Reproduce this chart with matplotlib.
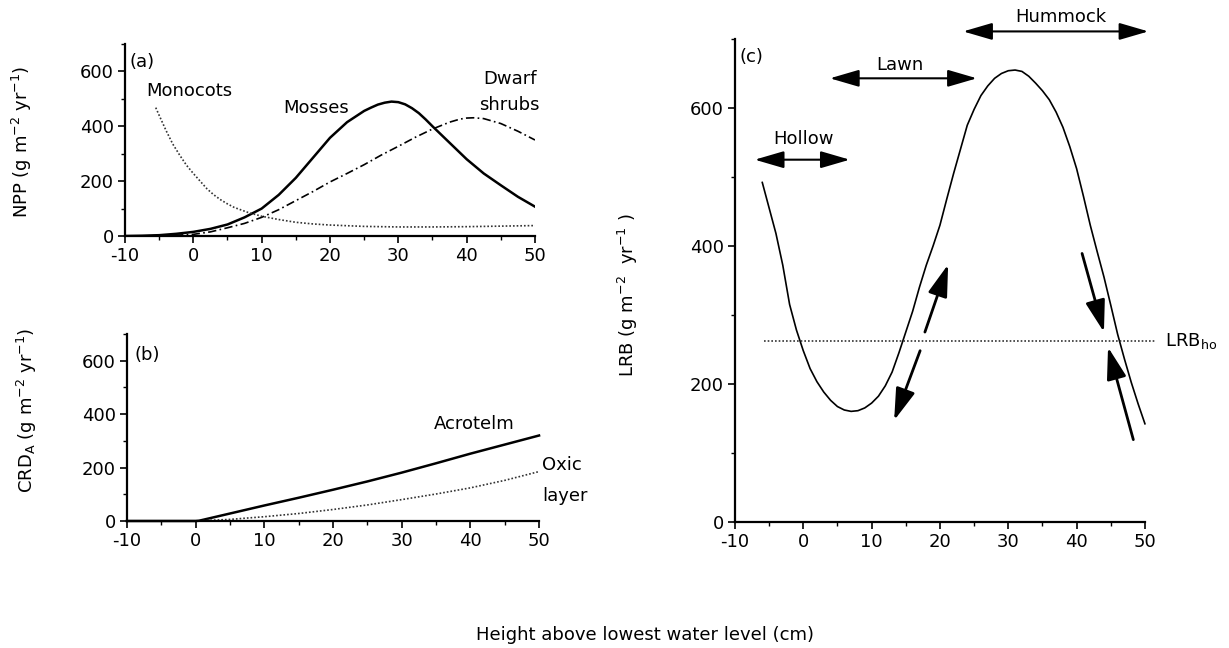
import matplotlib
matplotlib.use("Agg")
import matplotlib.pyplot as plt
from matplotlib.ticker import MultipleLocator

plt.rcParams['font.family'] = ['DejaVu Sans']
plt.rcParams['axes.unicode_minus'] = False
plt.rcParams['mathtext.default'] = 'regular'

# ---------------- data ----------------
# Panel (a): NPP
mosses_x = [-10, -7.5, -5, -2.5, 0, 2.5, 5, 7.5, 10, 12.5, 15, 17.5, 20, 22.5, 25,
            26, 27, 28, 29, 30, 31, 32, 33, 34, 35, 37.5, 40, 42.5, 45, 47.5, 50]
mosses_y = [0, 1, 3, 8, 15, 26, 42, 68, 100, 150, 212, 285, 358, 415, 456,
            468, 479, 486, 490, 488, 480, 466, 448, 425, 400, 340, 280, 228, 185, 143, 107]

dwarf_x = [-10, -5, -2.5, 0, 2.5, 5, 7.5, 10, 12.5, 15, 17.5, 20, 22.5, 25,
           27.5, 30, 32.5, 35, 37.5, 39, 40, 41, 42.5, 45, 47.5, 50]
dwarf_y = [0, 1, 3, 6, 15, 30, 46, 68, 96, 129, 162, 197, 228, 260,
           295, 327, 360, 390, 415, 426, 430, 431, 428, 410, 382, 350]

mono_x = [-5.5, -5, -4, -3, -2, -1, 0, 1, 2, 3, 4, 5, 6, 8, 10, 12.5, 15, 17.5,
          20, 25, 30, 35, 40, 45, 50]
mono_y = [468, 440, 385, 335, 295, 258, 228, 200, 172, 150, 132, 117, 104, 86, 72,
          60, 50, 44, 40, 35, 33, 33, 34, 36, 38]

# Panel (b): CRD_A
acro_x = [-10, 0, 0.5, 5, 10, 15, 20, 25, 30, 35, 40, 45, 50]
acro_y = [0, 0, 1, 28, 58, 87, 117, 148, 181, 216, 252, 286, 320]
oxic_x = [0, 5, 10, 15, 20, 25, 30, 35, 40, 45, 50]
oxic_y = [0, 6, 16, 28, 43, 60, 80, 101, 124, 152, 185]

# Panel (c): LRB
lrb_x = [-6, -5, -4, -3, -2, -1, 0, 1, 2, 3, 4, 5, 6, 7, 8, 9, 10, 11, 12, 13, 14,
         15, 16, 17, 18, 19, 20, 21, 22, 23, 24, 25, 26, 27, 28, 29, 30, 31, 32,
         33, 34, 35, 36, 37, 38, 39, 40, 41, 42, 43, 44, 45, 46, 47, 48, 49, 50]
lrb_y = [492, 455, 418, 372, 315, 278, 248, 222, 203, 188, 176, 167, 162, 160, 161,
         165, 172, 182, 197, 217, 245, 275, 305, 340, 372, 400, 430, 468, 505, 540,
         575, 598, 618, 632, 643, 650, 654, 655, 653, 646, 636, 625, 612, 594, 572,
         544, 512, 472, 430, 392, 355, 314, 272, 236, 202, 171, 142]
lrb_ho = 262
lrb_ho_x = [-5.7, 51.6]

zone_names = ["Hollow", "Lawn", "Hummock"]
zone_start = [-7.1, 3.9, 23.4]
zone_end = [6.8, 25.4, 50.5]
zone_arrow_y = [525, 643, 711]
zone_text_x = [0, 14.1, 37.7]
zone_text_y = [555, 662, 732]

# feedback arrows (tail x, tail y, head x, head y)
fb_arrows = [(17.8, 275, 21.2, 373),
             (17.1, 248, 13.3, 147),
             (40.8, 389, 44.0, 275),
             (48.3, 119, 44.6, 253)]

xticks = [-10, 0, 10, 20, 30, 40, 50]
yticks = [0, 200, 400, 600]

FS = 13

fig = plt.figure(figsize=(12.29, 6.48), dpi=100)
ax_a = fig.add_axes([0.1017, 0.6358, 0.3336, 0.2963])
ax_b = fig.add_axes([0.1033, 0.196, 0.3353, 0.2886])
ax_c = fig.add_axes([0.598, 0.1949, 0.3336, 0.7449])


def style(ax):
    for s in ['top', 'right']:
        ax.spines[s].set_visible(False)
    for s in ['left', 'bottom']:
        ax.spines[s].set_linewidth(1.6)
    ax.set_xlim(-10, 50)
    ax.set_ylim(0, 700)
    ax.set_xticks(xticks)
    ax.set_yticks(yticks)
    ax.xaxis.set_minor_locator(MultipleLocator(5))
    ax.yaxis.set_minor_locator(MultipleLocator(100))
    ax.tick_params(which='major', direction='out', length=5, width=1.2,
                   labelsize=FS, pad=3)
    ax.tick_params(which='minor', direction='out', length=3, width=1.0)


for ax in (ax_a, ax_b, ax_c):
    style(ax)

dot = (0, (1, 1.2))

# Panel (a)
ax_a.plot(mosses_x, mosses_y, color='black', lw=1.8)
ax_a.plot(dwarf_x, dwarf_y, color='black', lw=1.2, ls=(0, (5, 2, 1, 2)))
ax_a.plot(mono_x, mono_y, color='#333333', lw=1.2, ls=dot)
ax_a.text(-9.3, 634, "(a)", fontsize=FS, ha='left', va='center')
ax_a.text(-0.6, 530, "Monocots", fontsize=FS, ha='center', va='center')
ax_a.text(18, 466, "Mosses", fontsize=FS, ha='center', va='center')
ax_a.text(50.3, 573, "Dwarf", fontsize=FS, ha='right', va='center')
ax_a.text(50.6, 477, "shrubs", fontsize=FS, ha='right', va='center')
ax_a.set_ylabel("NPP (g m$^{-2}$ yr$^{-1}$)", fontsize=FS)
ax_a.yaxis.set_label_coords(-0.222, 0.49)

# Panel (b)
ax_b.plot(acro_x, acro_y, color='black', lw=1.8, clip_on=False)
ax_b.plot(oxic_x, oxic_y, color='#333333', lw=1.2, ls=dot, clip_on=False)
ax_b.text(-8.9, 622, "(b)", fontsize=FS, ha='left', va='center')
ax_b.text(40.5, 363, "Acrotelm", fontsize=FS, ha='center', va='center')
ax_b.text(50.4, 209, "Oxic", fontsize=FS, ha='left', va='center')
ax_b.text(50.4, 92, "layer", fontsize=FS, ha='left', va='center')
ax_b.set_ylabel("CRD$_A$ (g m$^{-2}$ yr$^{-1}$)", fontsize=FS)
ax_b.yaxis.set_label_coords(-0.214, 0.59)

# Panel (c)
ax_c.plot(lrb_x, lrb_y, color='black', lw=1.2, clip_on=False)
ax_c.plot(lrb_ho_x, [lrb_ho, lrb_ho], color='#333333', lw=1.2, ls=dot, clip_on=False)
ax_c.text(52.9, lrb_ho, "LRB$_{ho}$", fontsize=FS, ha='left', va='center')
ax_c.text(-9.4, 674, "(c)", fontsize=FS, ha='left', va='center')
for name, xs, xe, ya, tx, ty in zip(zone_names, zone_start, zone_end,
                                    zone_arrow_y, zone_text_x, zone_text_y):
    ax_c.annotate("", xy=(xe, ya), xytext=(xs, ya),
                  arrowprops=dict(arrowstyle='<|-|>,head_length=1.2,head_width=0.35',
                                  color='black', lw=1.5, shrinkA=0, shrinkB=0,
                                  mutation_scale=15),
                  annotation_clip=False)
    ax_c.text(tx, ty, name, fontsize=FS, ha='center', va='center', clip_on=False)
for (tx, ty, hx, hy) in fb_arrows:
    ax_c.annotate("", xy=(hx, hy), xytext=(tx, ty),
                  arrowprops=dict(arrowstyle='-|>,head_length=1.3,head_width=0.4',
                                  color='black', lw=2.0, shrinkA=0, shrinkB=0,
                                  mutation_scale=15),
                  annotation_clip=False)
ax_c.set_ylabel("LRB (g m$^{-2}$  yr$^{-1}$ )", fontsize=FS)
ax_c.yaxis.set_label_coords(-0.232, 0.47)

fig.text(0.525, 0.02, "Height above lowest water level (cm)", fontsize=FS,
         ha='center', va='center')

fig.savefig("out.png", dpi=100)
